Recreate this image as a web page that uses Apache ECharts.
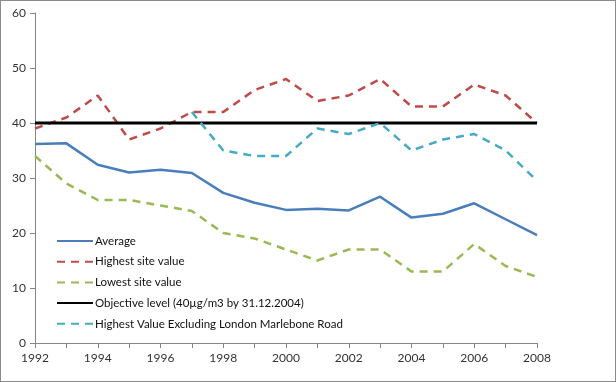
<!DOCTYPE html>
<html>
<head>
<meta charset="utf-8">
<script src="https://cdn.jsdelivr.net/npm/echarts@6/dist/echarts.min.js"></script>
<style>
html,body{margin:0;padding:0;background:#fff;}
#chart{width:616px;height:382px;box-sizing:border-box;border:1px solid #8a8a8a;}
</style>
</head>
<body>
<div id="chart"></div>
<script>
const years = [1992,1993,1994,1995,1996,1997,1998,1999,2000,2001,2002,2003,2004,2005,2006,2007,2008];
const average = [36.2,36.3,32.4,31.0,31.5,30.9,27.3,25.5,24.2,24.4,24.1,26.6,22.8,23.5,25.4,22.5,19.6];
const highestSite = [39,41,45,37,39,42,42,46,48,44,45,48,43,43,47,45,40];
const lowestSite = [34,29,26,26,25,24,20,19,17,15,17,17,13,13,18,14,12];
const objective = [40,40,40,40,40,40,40,40,40,40,40,40,40,40,40,40,40];
const highestExclYears = [1997,1998,1999,2000,2001,2002,2003,2004,2005,2006,2007,2008];
const highestExcl = [42,35,34,34,39,38,40,35,37,38,35,29.5];
const yTicks = [0,10,20,30,40,50,60];
const names = ['Average','Highest site value','Lowest site value','Objective level (40µg/m3 by 31.12.2004)','Highest Value Excluding London Marlebone Road'];

function pairs(xs, ys){ return xs.map((x,i)=>[x, ys[i]]); }

const font = 'Lato, "Open Sans", sans-serif';
const chart = echarts.init(document.getElementById('chart'));
chart.setOption({
  animation:false,
  textStyle:{fontFamily:font},
  grid:{left:34,right:78,top:12,bottom:38},
  xAxis:{
    type:'value', min:1992, max:2008, interval:1,
    axisLine:{lineStyle:{color:'#868686',width:1}},
    axisTick:{show:true,length:5,lineStyle:{color:'#868686'}},
    splitLine:{show:false},
    axisLabel:{color:'#333',fontSize:12,fontFamily:font,margin:9,
      formatter:v=> (v%2===0 ? String(v) : '')}
  },
  yAxis:{
    type:'value', min:yTicks[0], max:yTicks[yTicks.length-1], interval:10,
    axisLine:{show:true,lineStyle:{color:'#868686',width:1}},
    axisTick:{show:true,length:5,lineStyle:{color:'#868686'}},
    splitLine:{show:false},
    axisLabel:{color:'#333',fontSize:12,fontFamily:font,margin:9}
  },
  legend:{
    orient:'vertical', left:50, top:229,
    itemWidth:36, itemHeight:14, itemGap:8.7,
    itemStyle:{color:'transparent',borderWidth:0,opacity:0},
    textStyle:{fontSize:11.5,color:'#111',fontFamily:font,padding:[0,0,0,-3]},
    data:names
  },
  series:[
    {name:names[0],type:'line',symbol:'none',data:pairs(years,average),
     lineStyle:{color:'#4a7ebb',width:2.5},itemStyle:{color:'#4a7ebb'}},
    {name:names[1],type:'line',symbol:'none',data:pairs(years,highestSite),
     lineStyle:{color:'#be4b48',width:2.5,type:[8,6]},itemStyle:{color:'#be4b48'}},
    {name:names[2],type:'line',symbol:'none',data:pairs(years,lowestSite),
     lineStyle:{color:'#98b954',width:2.5,type:[8,6]},itemStyle:{color:'#98b954'}},
    {name:names[3],type:'line',symbol:'none',data:pairs(years,objective),
     lineStyle:{color:'#000',width:3},itemStyle:{color:'#000'}},
    {name:names[4],type:'line',symbol:'none',data:pairs(highestExclYears,highestExcl),
     lineStyle:{color:'#46aac5',width:2.5,type:[8,6]},itemStyle:{color:'#46aac5'}}
  ]
});
</script>
</body>
</html>
